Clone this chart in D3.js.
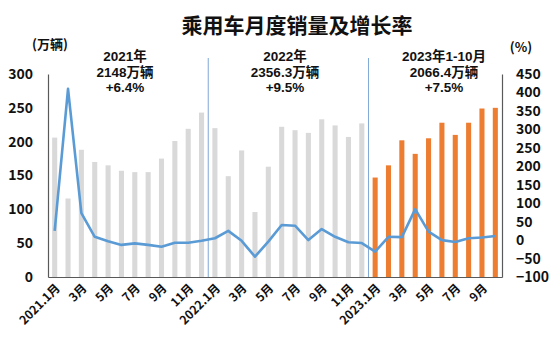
<!DOCTYPE html>
<html><head><meta charset="utf-8">
<script src="https://cdn.jsdelivr.net/npm/d3@7"></script>
<style>
body{margin:0;background:#fff;}
svg{display:block;font-family:"Noto Sans CJK SC","Noto Sans",sans-serif;}
</style></head>
<body><svg id="c" width="550" height="341"></svg>
<script>
const months = ["2021.1月","2月","3月","4月","5月","6月","7月","8月","9月","10月","11月","12月",
"2022.1月","2月","3月","4月","5月","6月","7月","8月","9月","10月","11月","12月",
"2023.1月","2月","3月","4月","5月","6月","7月","8月","9月","10月"];
const years = [2021,2021,2021,2021,2021,2021,2021,2021,2021,2021,2021,2021,
2022,2022,2022,2022,2022,2022,2022,2022,2022,2022,2022,2022,
2023,2023,2023,2023,2023,2023,2023,2023,2023,2023];
const sales = [206,116,188,170,165,157,155,155,175,201,219,243,
220,149,187,96,163,222,217,213,233,224,207,227,
147,165,202,182,205,228,210,228,249,250];
const growth = [25,410,73,9,-3,-13,-9,-13,-18,-7,-7,-2,
5,25,-2,-45,-4,41,39,0,30,9,-6,-8,
-31,9,8,84,23,0,-5,5,7,11];
const leftTicks = [0,50,100,150,200,250,300];
const rightTicks = [-100,-50,0,50,100,150,200,250,300,350,400,450];
const tickLabelIdx = [0,2,4,6,8,10,12,14,16,18,20,22,24,26,28,30,32];
const annLines = [
  ["2021年","2148万辆","+6.4%"],
  ["2022年","2356.3万辆","+9.5%"],
  ["2023年1-10月","2066.4万辆","+7.5%"]
];
const title = "乘用车月度销量及增长率";

const svg = d3.select("#c");
const L=48, R=502, T=74, B=277;
const x = d3.scaleBand().domain(d3.range(months.length)).range([L,R]).paddingInner(0.62).paddingOuter(0.31);
const yL = d3.scaleLinear().domain([0,300]).range([B,T]);
const yR = d3.scaleLinear().domain([-100,450]).range([B,T]);

// title
svg.append("text").attr("x",297).attr("y",33).attr("text-anchor","middle")
  .attr("font-size",21).attr("font-weight",700).attr("fill","#111").text(title);

// bars
svg.append("g").selectAll("rect").data(sales).join("rect")
  .attr("x",(d,i)=>x(i)).attr("width",x.bandwidth())
  .attr("y",d=>yL(d)).attr("height",d=>B-yL(d))
  .attr("fill",(d,i)=>years[i]===2023?"#ed7d31":"#d9d9d9");

// year separators
const step = x.step();
[12,24].forEach(i=>{
  const xx = x(i) - (step - x.bandwidth())/2;
  svg.append("line").attr("x1",xx).attr("x2",xx).attr("y1",58).attr("y2",B)
    .attr("stroke","#7fa9d6").attr("stroke-width",1);
});

// growth line
const line = d3.line().x((d,i)=>x(i)+x.bandwidth()/2).y(d=>yR(d));
svg.append("path").datum(growth).attr("d",line).attr("fill","none")
  .attr("stroke","#5b9bd5").attr("stroke-width",2.6).attr("stroke-linejoin","round");

// axes
const axL = svg.append("g").attr("transform",`translate(${L},0)`)
  .call(d3.axisLeft(yL).tickValues(leftTicks).tickSize(0).tickPadding(15));
const axR = svg.append("g").attr("transform",`translate(${R},0)`)
  .call(d3.axisRight(yR).tickValues(rightTicks).tickSize(0).tickPadding(14));
[axL,axR].forEach(a=>{
  a.select(".domain").attr("stroke","#595959").attr("stroke-width",1.2);
  a.selectAll("text").attr("font-size",14).attr("font-weight",700).attr("fill","#111")
   .attr("font-family","\"Noto Sans CJK SC\",sans-serif");
});
const axB = svg.append("g").attr("transform",`translate(0,${B})`)
  .call(d3.axisBottom(x).tickValues(tickLabelIdx).tickFormat(i=>months[i]).tickSize(0).tickPadding(0));
axB.select(".domain").attr("stroke","#595959").attr("stroke-width",1.2);
axB.selectAll("text").attr("font-size",12).attr("font-weight",700).attr("fill","#111")
  .attr("font-family","\"Noto Sans CJK SC\",sans-serif")
  .attr("text-anchor","end").attr("dy",0)
  .attr("transform","translate(6,12) rotate(-45)");

// unit labels
svg.append("text").attr("x",50).attr("y",49).attr("text-anchor","middle")
  .attr("font-size",13).attr("font-weight",700).attr("fill","#111").text("(万辆)");
svg.append("text").attr("x",521).attr("y",52).attr("text-anchor","middle")
  .attr("font-size",13).attr("font-weight",700).attr("fill","#111").text("(%)");

// annotations (one text block each)
const annX = [125,285,444];
annLines.forEach((lines,k)=>{
  const t = svg.append("text").attr("x",annX[k]).attr("y",61).attr("text-anchor","middle")
    .attr("font-size",13.5).attr("font-weight",700).attr("fill","#111")
    .attr("font-family","\"Liberation Sans\",\"Noto Sans CJK SC\",sans-serif");
  lines.forEach((s,j)=>{
    t.append("tspan").attr("x",annX[k]).attr("dy",j===0?0:15.5).text(s);
  });
});
</script></body></html>
